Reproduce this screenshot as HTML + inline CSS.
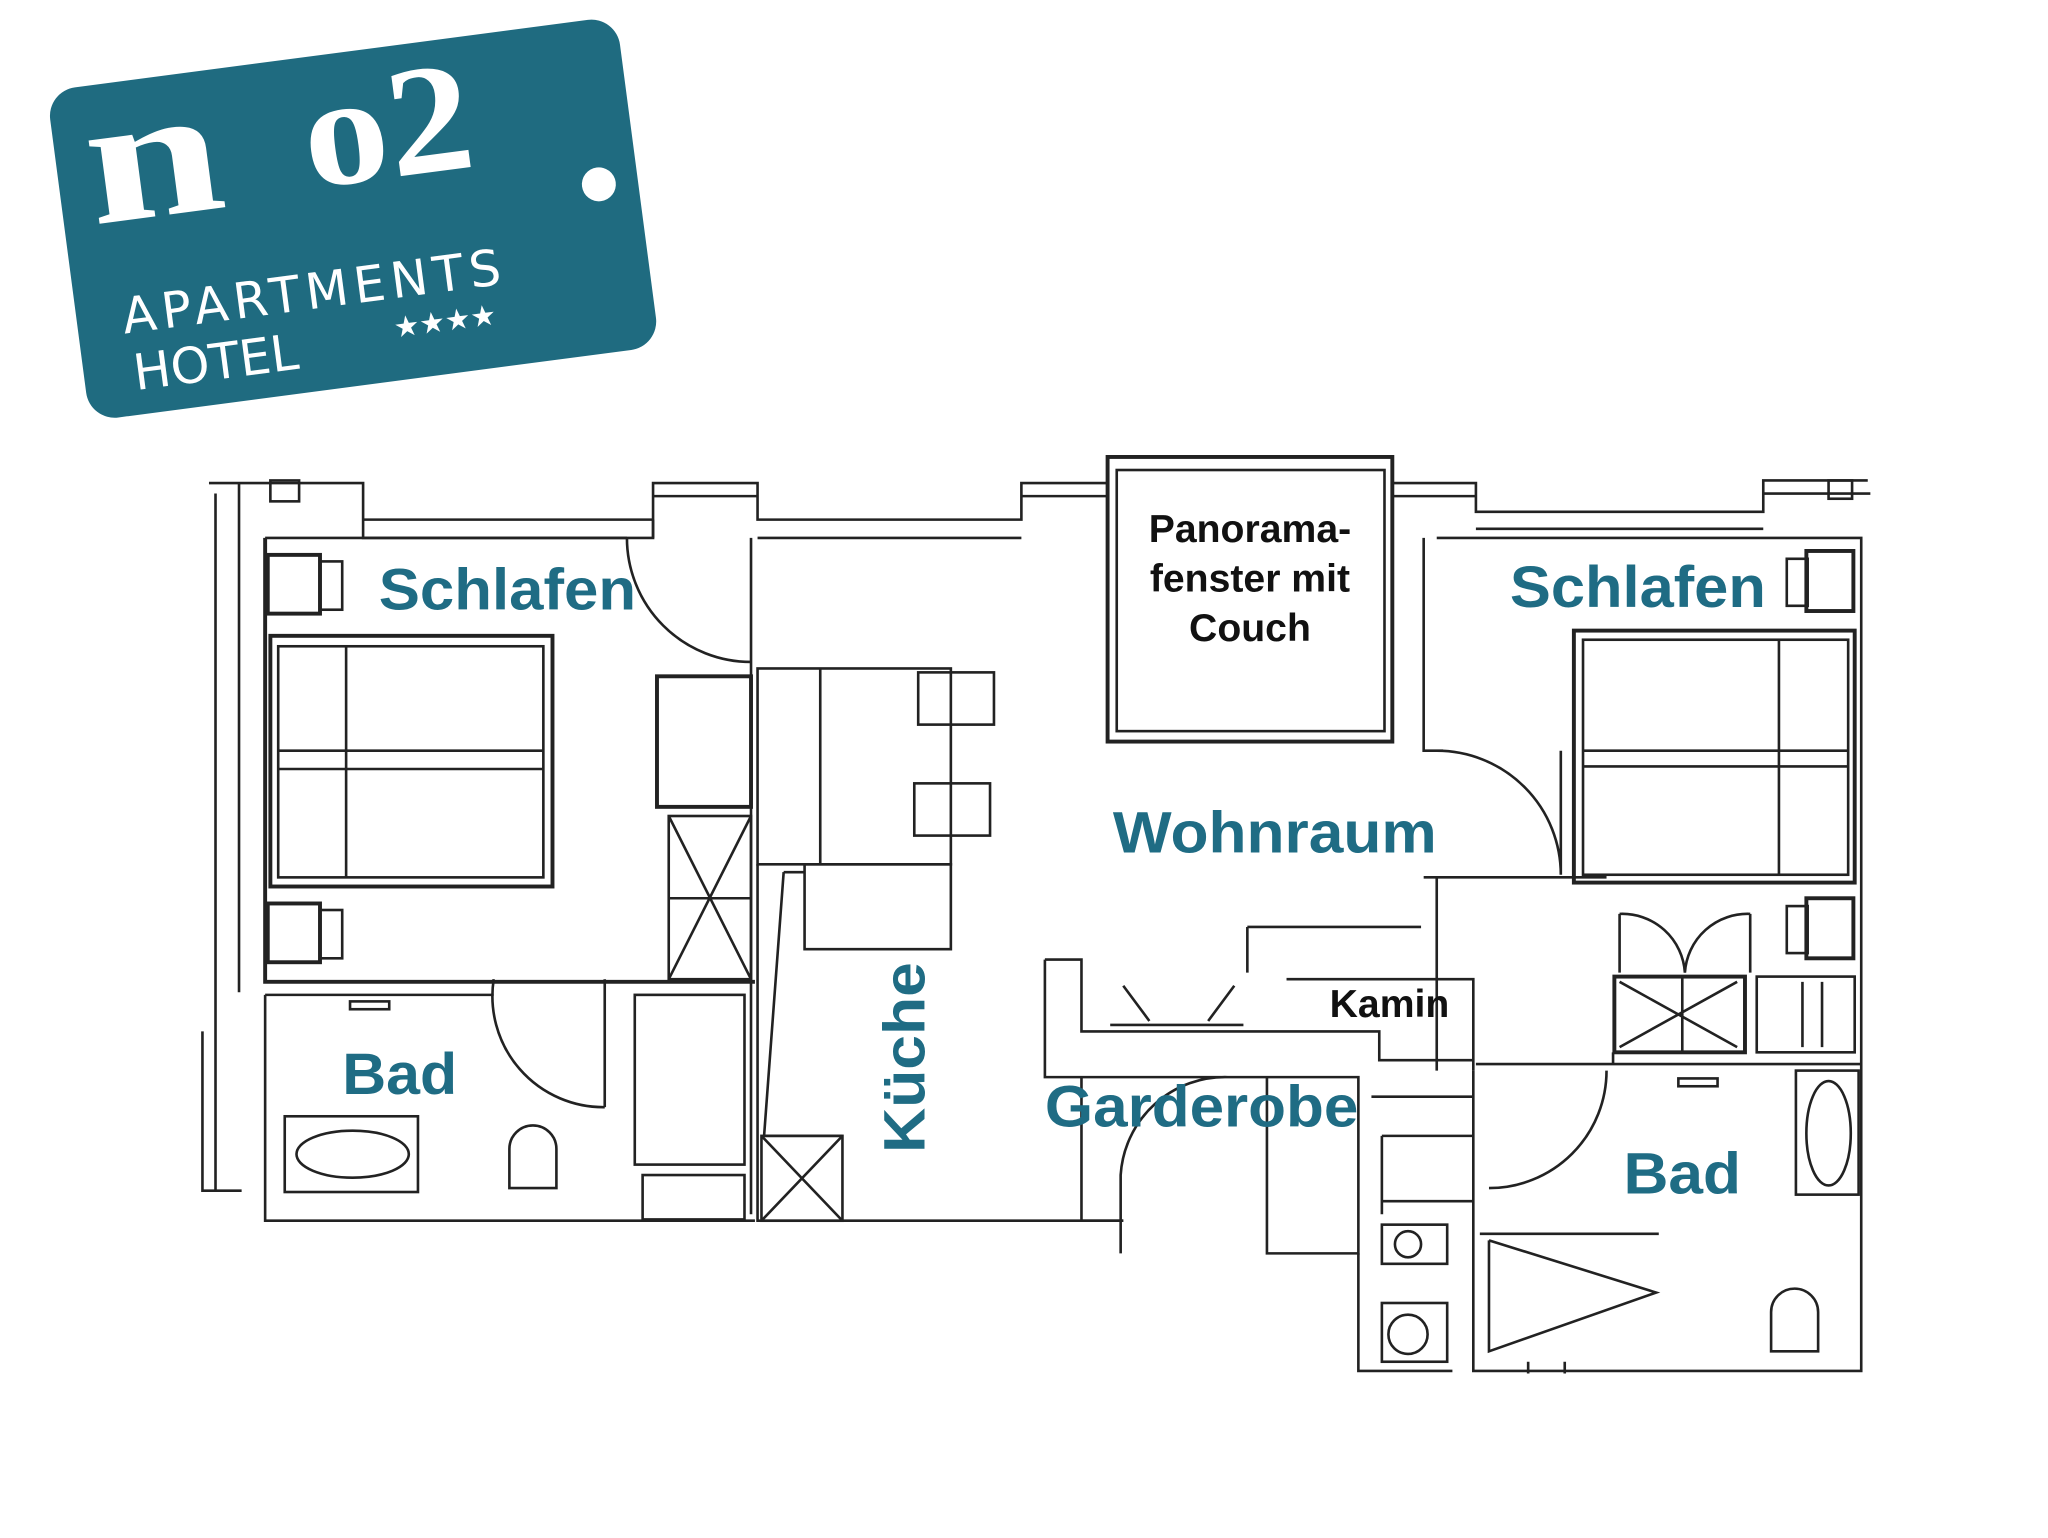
<!DOCTYPE html>
<html><head><meta charset="utf-8"><style>
html,body{margin:0;padding:0;background:#fff;}
svg{display:block}
.t{font-family:"Liberation Sans",sans-serif;font-weight:bold;fill:#1f6c84}
.k{font-family:"Liberation Sans",sans-serif;font-weight:bold;fill:#111}
</style></head><body>
<svg width="2048" height="1538" viewBox="0 0 1568 1178" preserveAspectRatio="none" xmlns="http://www.w3.org/2000/svg">
<rect width="1568" height="1178" fill="#fff"/>
<g transform="rotate(-7.5 270 165)">
<rect x="50" y="40" width="440" height="255" rx="22" fill="#1f6b80"/>
<circle cx="460" cy="166" r="13" fill="#fff"/>
<text x="72" y="146" font-family="Liberation Serif,serif" font-size="140" font-weight="bold" fill="#fff" textLength="105" lengthAdjust="spacingAndGlyphs">n</text>
<text x="240" y="140" font-family="Liberation Serif,serif" font-size="120" font-weight="bold" fill="#fff" textLength="130" lengthAdjust="spacingAndGlyphs">o2</text>
<text x="85" y="232" font-family="DejaVu Sans,sans-serif" font-size="38" fill="#fff" textLength="292">APARTMENTS</text>
<text x="88" y="276" font-family="DejaVu Sans,sans-serif" font-size="38" fill="#fff">HOTEL</text>
<text x="290" y="262" font-family="DejaVu Sans,sans-serif" font-size="22" fill="#fff">★★★★</text>
</g>
<g fill="none" stroke="#222" stroke-width="2">
<path d="M160 370 H278 V412 H500 V370 H580 V398 H782 V370 H848 V350 H1066 V370 H1130 V392 H1350 V368 H1430"/>
<path d="M165 378 V912 M183 378 V760 M183 370 V378"/>
<path d="M278 398 H500 M580 412 H782 M1130 405 H1350"/>
<path d="M500 380 H580 M500 412 V398 M782 380 H848 M1066 380 H1130 M1350 378 H1432"/>
<rect x="207" y="368" width="22" height="16"/>
<rect x="1400" y="368" width="18" height="14"/>
<path d="M203 412 V752 H578" stroke-width="3"/>
<path d="M203 412 H480 M575 412 V930"/>
<rect x="205" y="425" width="40" height="45" stroke-width="3"/><rect x="245" y="430" width="17" height="37"/>
<rect x="205" y="692" width="40" height="45" stroke-width="3"/><rect x="245" y="697" width="17" height="37"/>
<rect x="207" y="487" width="216" height="192" stroke-width="3"/>
<rect x="213" y="495" width="203" height="177"/>
<path d="M213 575 H416 M213 589 H416 M265 495 V672"/>
<path d="M480 412 A95 95 0 0 0 575 507"/>
<rect x="503" y="518" width="72" height="100" stroke-width="3"/>
<rect x="512" y="625" width="63" height="125"/><path d="M512 625 L575 750 M575 625 L512 750 M512 688 H575"/>
<path d="M203 762 H378 M463 750 V848 M203 762 V935 H578 M155 790 V912 H185"/>
<path d="M378 750 A85 85 0 0 0 463 848"/>
<rect x="218" y="855" width="102" height="58"/><ellipse cx="270" cy="884" rx="43" ry="18"/>
<rect x="268" y="767" width="30" height="6"/>
<path d="M390 910 V880 A18 18 0 0 1 426 880 V910 Z"/>
<rect x="486" y="762" width="84" height="130"/><rect x="492" y="900" width="78" height="34"/>
<rect x="580" y="512" width="148" height="150"/>
<path d="M628 512 V662"/>
<rect x="703" y="515" width="58" height="40"/><rect x="700" y="600" width="58" height="40"/>
<rect x="616" y="662" width="112" height="65"/>
<path d="M580 662 V935 H860 M585 870 L600 668 M600 668 H616 M585 870 H645"/>
<rect x="583" y="870" width="62" height="65"/><path d="M583 870 L645 935 M645 870 L583 935"/>
<rect x="848" y="350" width="218" height="218" stroke-width="3"/>
<rect x="855" y="360" width="205" height="200"/>
<path d="M1090 412 V575 H1105 M1100 575 A95 95 0 0 1 1195 670 M1195 575 V670 M1090 672 H1230"/>
<path d="M1100 672 V820 M955 710 H1088 M955 710 V745 M985 750 H1128 V820"/>
<path d="M800 735 H828 V790 H1056 V812 H1128 M800 735 V825 H1040 V960 H970 V825 M828 825 V935 H860 M858 960 V900 A80 80 0 0 1 940 825"/>
<path d="M850 785 H952 M860 755 L880 782 M945 755 L925 782"/>
<path d="M1050 840 H1128 M1058 870 H1128 M1058 920 H1128 M1040 960 V1050 H1112 M1058 870 V930"/>
<rect x="1058" y="938" width="50" height="30"/><circle cx="1078" cy="953" r="10"/>
<rect x="1058" y="998" width="50" height="45"/><circle cx="1078" cy="1022" r="15"/>
<path d="M1100 412 H1425 V1050 H1128 V820"/>
<rect x="1383" y="422" width="36" height="46" stroke-width="3"/><rect x="1368" y="428" width="16" height="36"/>
<rect x="1383" y="688" width="36" height="46" stroke-width="3"/><rect x="1368" y="694" width="16" height="36"/>
<rect x="1205" y="483" width="215" height="193" stroke-width="3"/>
<rect x="1212" y="490" width="203" height="180"/>
<path d="M1212 575 H1415 M1212 587 H1415 M1362 490 V670"/>
<rect x="1236" y="748" width="100" height="58" stroke-width="3"/><rect x="1345" y="748" width="75" height="58"/>
<path d="M1240 752 L1330 802 M1330 752 L1240 802 M1288 748 V806 M1380 752 V802 M1395 752 V802"/>
<path d="M1240 700 A48 48 0 0 1 1290 745 M1340 700 A48 48 0 0 0 1290 745 M1240 700 V745 M1340 700 V745"/>
<path d="M1130 815 H1425 M1235 806 V815 M1140 910 A90 90 0 0 0 1230 820"/>
<rect x="1285" y="826" width="30" height="6"/>
<rect x="1375" y="820" width="48" height="95"/><ellipse cx="1400" cy="868" rx="17" ry="40"/>
<path d="M1133 945 H1270 M1140 950 V1035 L1268 990 L1140 950"/>
<path d="M1356 1035 V1005 A18 18 0 0 1 1392 1005 V1035 Z"/>
<path d="M1170 1043 V1052 M1198 1043 V1052"/>
</g>
<text class="t" x="290" y="467" font-size="45" textLength="197" lengthAdjust="spacingAndGlyphs">Schlafen</text>
<text class="t" x="1156" y="465" font-size="45" textLength="196" lengthAdjust="spacingAndGlyphs">Schlafen</text>
<text class="t" x="852" y="653" font-size="45" textLength="248" lengthAdjust="spacingAndGlyphs">Wohnraum</text>
<text class="t" x="262" y="838" font-size="45" textLength="88" lengthAdjust="spacingAndGlyphs">Bad</text>
<text class="t" x="1243" y="914" font-size="45" textLength="90" lengthAdjust="spacingAndGlyphs">Bad</text>
<text class="t" x="800" y="863" font-size="45" textLength="240" lengthAdjust="spacingAndGlyphs">Garderobe</text>
<text class="t" font-size="45" transform="translate(708 883) rotate(-90)" textLength="146" lengthAdjust="spacingAndGlyphs">Küche</text>
<text class="k" x="957" y="415" font-size="30" text-anchor="middle">Panorama-</text>
<text class="k" x="957" y="453" font-size="30" text-anchor="middle">fenster mit</text>
<text class="k" x="957" y="491" font-size="30" text-anchor="middle">Couch</text>
<text class="k" x="1018" y="779" font-size="30">Kamin</text>
</svg>
</body></html>
